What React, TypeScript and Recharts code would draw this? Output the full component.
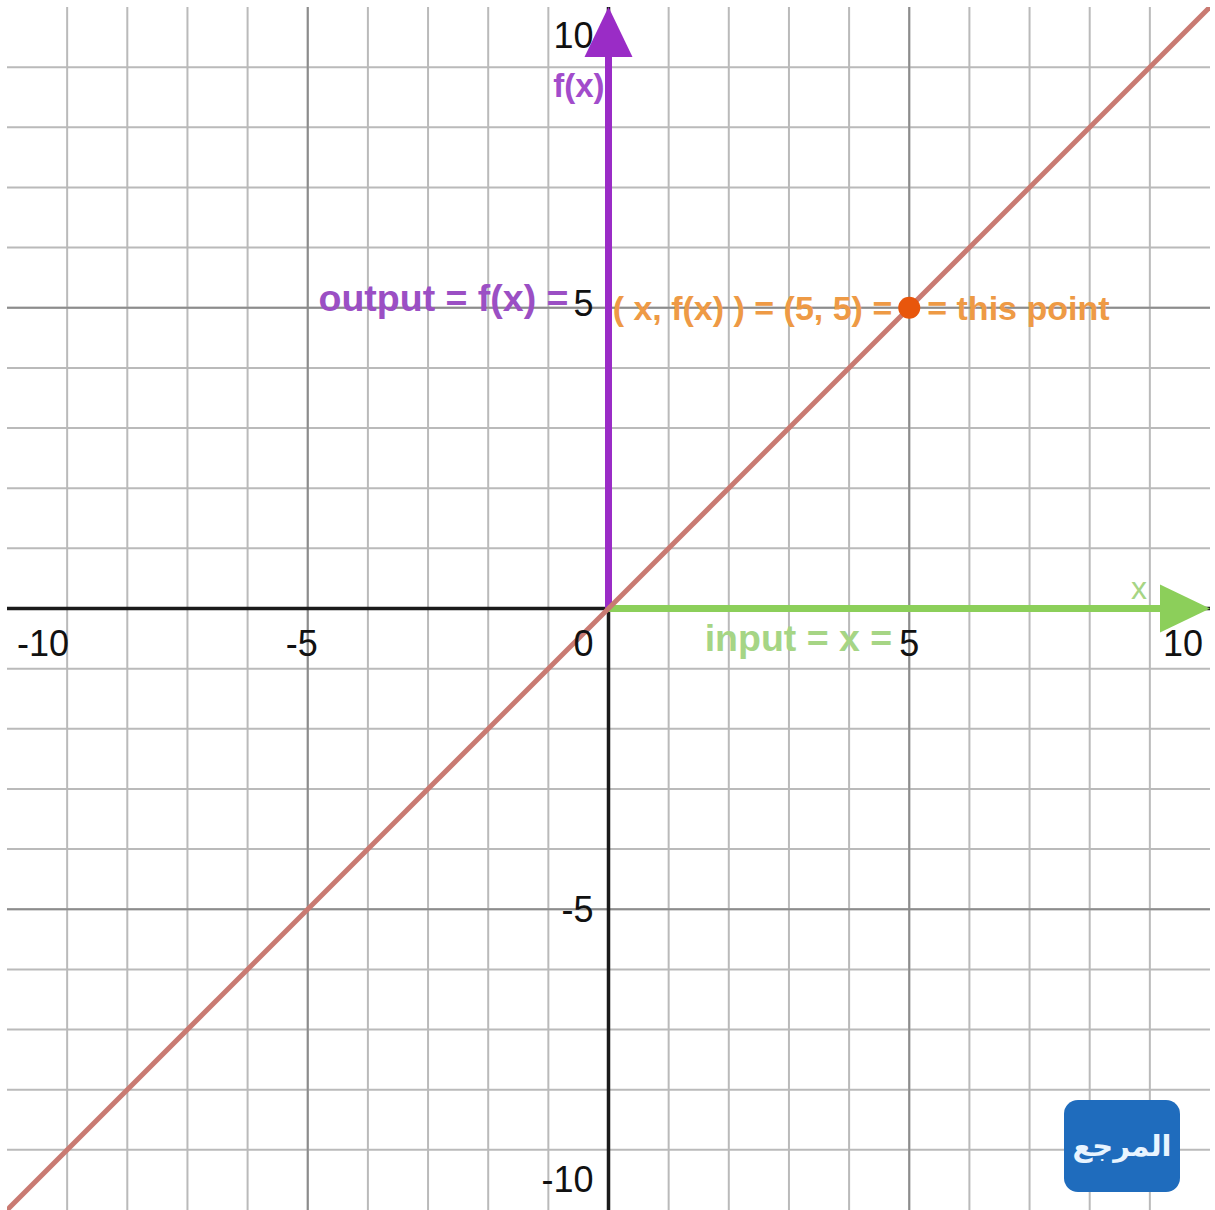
import React from 'react'
import {
  ComposedChart, Line, XAxis, YAxis, CartesianGrid,
  ReferenceLine, ReferenceDot,
} from 'recharts'

// f(x) = x drawn on a [-10, 10] x [-10, 10] grid
const gridTicks = [-10, -9, -8, -7, -6, -5, -4, -3, -2, -1, 0, 1, 2, 3, 4, 5, 6, 7, 8, 9, 10]
const majorTicks = [-5, 5]
const xTickValues = [-10, -5, 0, 5, 10]
const yTickValues = [-10, -5, 5, 10]
const lineXs = [-10, 10]
const lineYs = [-10, 10]
const pointX = 5
const pointY = 5

const lineData = lineXs.map((x, i) => ({ x, y: lineYs[i] }))
// no frame: grid lines only inside the domain edges
const innerGrid = gridTicks.filter(v => Math.abs(v) < 10)

const FONT = '"Liberation Sans", Arial, sans-serif'
const PURPLE = '#9a2cc6'
const GREEN = '#8ccf5a'
const ORANGE_DOT = '#e8560c'

// pixel nudges for the tick numbers, keyed by value
const xTickStyle: Record<number, { anchor: string; dx: number }> = {
  [-10]: { anchor: 'start', dx: 10 },
  [-5]: { anchor: 'middle', dx: -6 },
  0: { anchor: 'end', dx: -15 },
  5: { anchor: 'middle', dx: 0 },
  10: { anchor: 'end', dx: -7 },
}
const yTickStyle: Record<number, number> = { [-10]: -18, [-5]: 13, 5: 8, 10: 41 }

type TextOpts = {
  text: string
  dx: number
  dy: number
  anchor?: string
  fill?: string
  size?: number
  weight?: string | number
}

function textShape(o: TextOpts) {
  return (p: any) => (
    <text
      x={p.cx + o.dx}
      y={p.cy + o.dy}
      textAnchor={o.anchor ?? 'end'}
      fill={o.fill ?? '#111'}
      fontSize={o.size ?? 36}
      fontWeight={o.weight ?? 'normal'}
      fontFamily={FONT}
    >
      {o.text}
    </text>
  )
}

const upHead = (p: any) => (
  <polygon
    points={`${p.cx},${p.cy} ${p.cx - 24},${p.cy + 50} ${p.cx + 24},${p.cy + 50}`}
    fill={PURPLE}
  />
)

const rightHead = (p: any) => (
  <polygon
    points={`${p.cx},${p.cy} ${p.cx - 50},${p.cy - 24} ${p.cx - 50},${p.cy + 24}`}
    fill={GREEN}
  />
)

function Logo() {
  return (
    <div
      style={{
        position: 'absolute', left: 1064, top: 1100, width: 116, height: 92,
        background: '#1f6cbd', borderRadius: 14, display: 'flex',
        alignItems: 'center', justifyContent: 'center',
        color: '#e8f4ff', fontFamily: '"DejaVu Sans", sans-serif',
        fontSize: 29, fontWeight: 'bold', direction: 'rtl',
      }}
    >
      المرجع
    </div>
  )
}

export default function App() {
  return (
    <div style={{ position: 'fixed', left: 0, top: 0, width: 1215, height: 1210, background: '#fff', overflow: 'hidden' }}>
      <div style={{ position: 'absolute', left: 7, top: 7 }}>
        <ComposedChart width={1203} height={1203} data={lineData} margin={{ top: 0, right: 0, bottom: 0, left: 0 }}>
          <XAxis dataKey="x" type="number" domain={[-10, 10]} ticks={gridTicks} hide />
          <YAxis type="number" domain={[-10, 10]} ticks={gridTicks} hide />
          <CartesianGrid
            stroke="#bababa" strokeWidth={2}
            verticalValues={innerGrid} horizontalValues={innerGrid}
          />
          {majorTicks.map(v => (
            <ReferenceLine key={`vx${v}`} x={v} stroke="#8c8c8c" strokeWidth={2} />
          ))}
          {majorTicks.map(v => (
            <ReferenceLine key={`hy${v}`} y={v} stroke="#8c8c8c" strokeWidth={2} />
          ))}

          {/* black axes, positive halves covered by the coloured arrows */}
          <ReferenceLine y={0} stroke="#1a1a1a" strokeWidth={3.5} />
          <ReferenceLine x={0} stroke="#1a1a1a" strokeWidth={3.5} />

          {xTickValues.map(v => (
            <ReferenceDot
              key={`xt${v}`} x={v} y={0} r={0}
              shape={textShape({ text: String(v), dx: xTickStyle[v].dx, dy: 47, anchor: xTickStyle[v].anchor })}
            />
          ))}
          {yTickValues.map(v => (
            <ReferenceDot
              key={`yt${v}`} x={0} y={v} r={0}
              shape={textShape({ text: String(v), dx: -15, dy: yTickStyle[v] })}
            />
          ))}

          <ReferenceLine segment={[{ x: 0, y: 0 }, { x: 0, y: 9.2 }]} stroke={PURPLE} strokeWidth={7} />
          <ReferenceDot x={0} y={10} r={0} shape={upHead} />
          <ReferenceLine segment={[{ x: 0, y: 0 }, { x: 9.2, y: 0 }]} stroke={GREEN} strokeWidth={7} />
          <ReferenceDot x={10} y={0} r={0} shape={rightHead} />

          <Line
            dataKey="y" type="linear" stroke="#c97a72" strokeWidth={5}
            dot={false} activeDot={false} isAnimationActive={false}
          />

          <ReferenceDot
            x={0} y={9} r={0}
            shape={textShape({ text: 'f(x)', dx: -4, dy: 30, fill: '#a24ccb', size: 33, weight: 'bold' })}
          />
          <ReferenceDot
            x={0} y={pointY} r={0}
            shape={textShape({ text: 'output = f(x) =', dx: -40, dy: 3, fill: '#9b4fc4', size: 37.5, weight: 'bold' })}
          />
          <ReferenceDot
            x={pointX} y={pointY} r={0}
            shape={textShape({ text: '( x, f(x) ) = (5, 5) =', dx: -17, dy: 12, fill: '#ee9a45', size: 34, weight: 'bold' })}
          />
          <ReferenceDot
            x={pointX} y={pointY} r={0}
            shape={textShape({ text: '= this point', dx: 18, dy: 12, anchor: 'start', fill: '#ee9a45', size: 34, weight: 'bold' })}
          />
          <ReferenceDot x={pointX} y={pointY} r={11} fill={ORANGE_DOT} stroke="none" />
          <ReferenceDot
            x={pointX} y={0} r={0}
            shape={textShape({ text: 'input = x =', dx: -17, dy: 42, fill: '#a6d585', size: 37.5, weight: 'bold' })}
          />
          <ReferenceDot
            x={10} y={0} r={0}
            shape={textShape({ text: 'x', dx: -63, dy: -10, fill: '#a6d585', size: 32 })}
          />
        </ComposedChart>
      </div>
      <Logo />
    </div>
  )
}
